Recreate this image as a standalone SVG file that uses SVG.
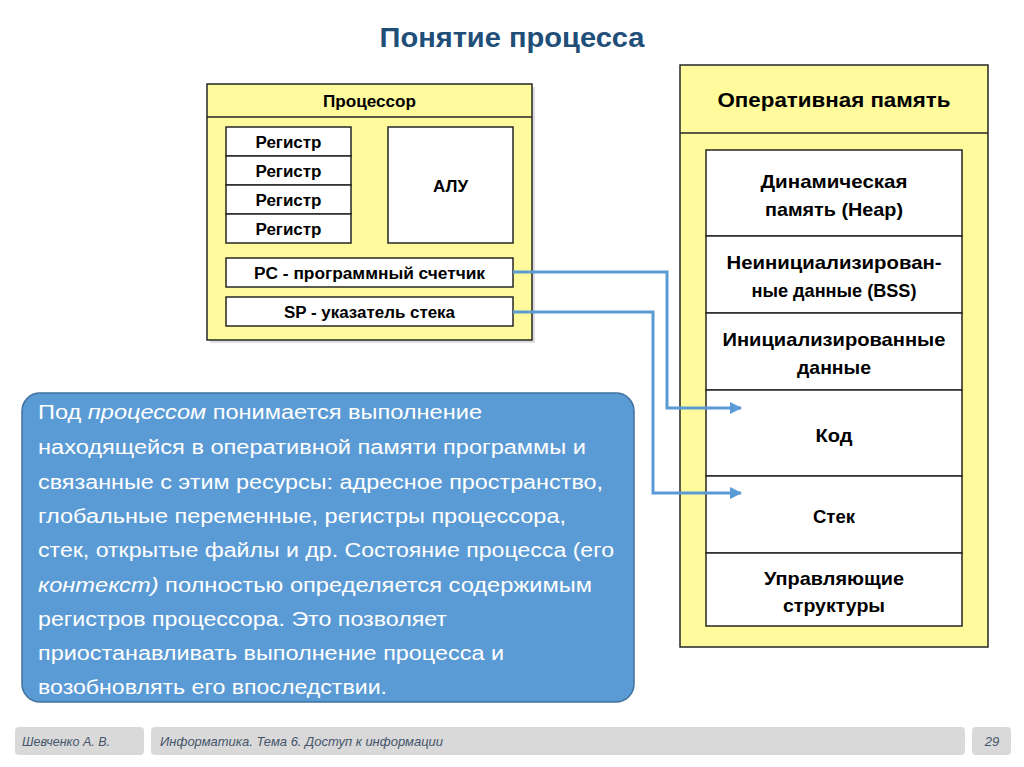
<svg xmlns="http://www.w3.org/2000/svg" width="1024" height="767" viewBox="0 0 1024 767">
<style>
.yb{fill:#FFFA9C;stroke:#262626;stroke-width:1.5}
.wb{fill:#FFFFFF;stroke:#262626;stroke-width:1.5}
.bt{font-family:"Liberation Sans",Arial,sans-serif;font-weight:bold;fill:#000;text-anchor:middle}
.ct{font-family:"Liberation Sans",Arial,sans-serif;font-size:20px;fill:#FFFFFF}
.ft{font-family:"Liberation Sans",Arial,sans-serif;font-size:13px;font-style:italic;fill:#44546A}
.conn{fill:none;stroke:#5B9BD5;stroke-width:3}
.fb{fill:#D9D9D9}
</style>
<defs>
<marker id="ah" viewBox="0 0 12 12" refX="11" refY="6" markerWidth="12" markerHeight="12" markerUnits="userSpaceOnUse" orient="auto">
<path d="M0,0 L12,6 L0,12 z" fill="#5B9BD5"/>
</marker>
</defs>
<rect x="0" y="0" width="1024" height="767" fill="#FFFFFF"/>
<text x="512" y="47" font-family="'Liberation Sans',Arial,sans-serif" font-size="28" font-weight="bold" fill="#1F4E79" text-anchor="middle" textLength="265" lengthAdjust="spacingAndGlyphs">Понятие процесса</text>

<g id="processor">
<rect x="210" y="87" width="325" height="256" fill="#BFBFBF" opacity="0.5"/>
<rect x="207" y="84" width="325" height="256" class="yb"/>
<line x1="207" y1="117" x2="532" y2="117" stroke="#262626" stroke-width="1.5"/>
<text x="369.5" y="107" class="bt" font-size="16" textLength="93" lengthAdjust="spacingAndGlyphs">Процессор</text>
</g>
<g id="reg1"><rect x="226" y="127" width="125" height="29" class="wb"/><text x="288.5" y="148" class="bt" font-size="16" textLength="66" lengthAdjust="spacingAndGlyphs">Регистр</text></g>
<g id="reg2"><rect x="226" y="156" width="125" height="29" class="wb"/><text x="288.5" y="177" class="bt" font-size="16" textLength="66" lengthAdjust="spacingAndGlyphs">Регистр</text></g>
<g id="reg3"><rect x="226" y="185" width="125" height="29" class="wb"/><text x="288.5" y="206" class="bt" font-size="16" textLength="66" lengthAdjust="spacingAndGlyphs">Регистр</text></g>
<g id="reg4"><rect x="226" y="214" width="125" height="29" class="wb"/><text x="288.5" y="235" class="bt" font-size="16" textLength="66" lengthAdjust="spacingAndGlyphs">Регистр</text></g>
<g id="alu"><rect x="388" y="127" width="125" height="116" class="wb"/><text x="450.5" y="192" class="bt" font-size="16" textLength="35" lengthAdjust="spacingAndGlyphs">АЛУ</text></g>
<g id="pc"><rect x="226" y="258" width="287" height="29" class="wb"/><text x="369.5" y="279" class="bt" font-size="16" textLength="231" lengthAdjust="spacingAndGlyphs">PC - программный счетчик</text></g>
<g id="sp"><rect x="226" y="297" width="287" height="29" class="wb"/><text x="369.5" y="318" class="bt" font-size="16" textLength="171" lengthAdjust="spacingAndGlyphs">SP - указатель стека</text></g>

<g id="ram">
<rect x="680" y="65" width="308" height="582" class="yb"/>
<line x1="680" y1="133" x2="988" y2="133" stroke="#262626" stroke-width="1.5"/>
<text x="834" y="107" class="bt" font-size="20" textLength="233" lengthAdjust="spacingAndGlyphs">Оперативная память</text>
</g>
<g id="heap"><rect x="706" y="150" width="256" height="86" class="wb"/><text x="834" y="188" class="bt" font-size="19" textLength="147" lengthAdjust="spacingAndGlyphs">Динамическая</text><text x="834" y="216" class="bt" font-size="19" textLength="138" lengthAdjust="spacingAndGlyphs">память (Heap)</text></g>
<g id="bss"><rect x="706" y="236" width="256" height="77" class="wb"/><text x="834" y="269" class="bt" font-size="19" textLength="215" lengthAdjust="spacingAndGlyphs">Неинициализирован-</text><text x="834" y="297" class="bt" font-size="19" textLength="165" lengthAdjust="spacingAndGlyphs">ные данные (BSS)</text></g>
<g id="data"><rect x="706" y="313" width="256" height="77" class="wb"/><text x="834" y="346" class="bt" font-size="19" textLength="223" lengthAdjust="spacingAndGlyphs">Инициализированные</text><text x="834" y="374" class="bt" font-size="19" textLength="74" lengthAdjust="spacingAndGlyphs">данные</text></g>
<g id="code"><rect x="706" y="390" width="256" height="86" class="wb"/><text x="834" y="442" class="bt" font-size="19" textLength="37" lengthAdjust="spacingAndGlyphs">Код</text></g>
<g id="stack"><rect x="706" y="476" width="256" height="77" class="wb"/><text x="834" y="523" class="bt" font-size="19" textLength="42" lengthAdjust="spacingAndGlyphs">Стек</text></g>
<g id="ctrl"><rect x="706" y="553" width="256" height="73" class="wb"/><text x="834" y="585" class="bt" font-size="19" textLength="140" lengthAdjust="spacingAndGlyphs">Управляющие</text><text x="834" y="612" class="bt" font-size="19" textLength="102" lengthAdjust="spacingAndGlyphs">структуры</text></g>

<g id="connectors">
<path d="M513,272 H667 V408 H741" class="conn" marker-end="url(#ah)"/>
<path d="M513,312 H653 V493 H741" class="conn" marker-end="url(#ah)"/>
</g>

<g id="desc">
<rect x="22" y="393" width="612" height="309" rx="18" ry="18" fill="#5B9BD5" stroke="#41719C" stroke-width="1.5"/>
<text class="ct" x="38" y="419" textLength="444" lengthAdjust="spacingAndGlyphs">Под <tspan font-style="italic">процессом</tspan> понимается выполнение</text>
<text class="ct" x="38" y="454" textLength="548" lengthAdjust="spacingAndGlyphs">находящейся в оперативной памяти программы и</text>
<text class="ct" x="38" y="489" textLength="565" lengthAdjust="spacingAndGlyphs">связанные с этим ресурсы: адресное пространство,</text>
<text class="ct" x="38" y="523" textLength="528" lengthAdjust="spacingAndGlyphs">глобальные переменные, регистры процессора,</text>
<text class="ct" x="38" y="557" textLength="576" lengthAdjust="spacingAndGlyphs">стек, открытые файлы и др. Состояние процесса (его</text>
<text class="ct" x="38" y="592" textLength="554" lengthAdjust="spacingAndGlyphs"><tspan font-style="italic">контекст)</tspan> полностью определяется содержимым</text>
<text class="ct" x="38" y="626" textLength="409" lengthAdjust="spacingAndGlyphs">регистров процессора. Это позволяет</text>
<text class="ct" x="38" y="660" textLength="466" lengthAdjust="spacingAndGlyphs">приостанавливать выполнение процесса и</text>
<text class="ct" x="38" y="694" textLength="349" lengthAdjust="spacingAndGlyphs">возобновлять его впоследствии.</text>
</g>

<g id="footer">
<rect x="15" y="727" width="129" height="28" rx="4" class="fb"/>
<rect x="151" y="727" width="814" height="28" rx="4" class="fb"/>
<rect x="972" y="727" width="39" height="28" rx="4" class="fb"/>
<text class="ft" x="22" y="746" textLength="88" lengthAdjust="spacingAndGlyphs">Шевченко А. В.</text>
<text class="ft" x="160" y="746" textLength="283" lengthAdjust="spacingAndGlyphs">Информатика. Тема 6. Доступ к информации</text>
<text class="ft" x="992" y="746" text-anchor="middle" font-style="normal">29</text>
</g>
</svg>
